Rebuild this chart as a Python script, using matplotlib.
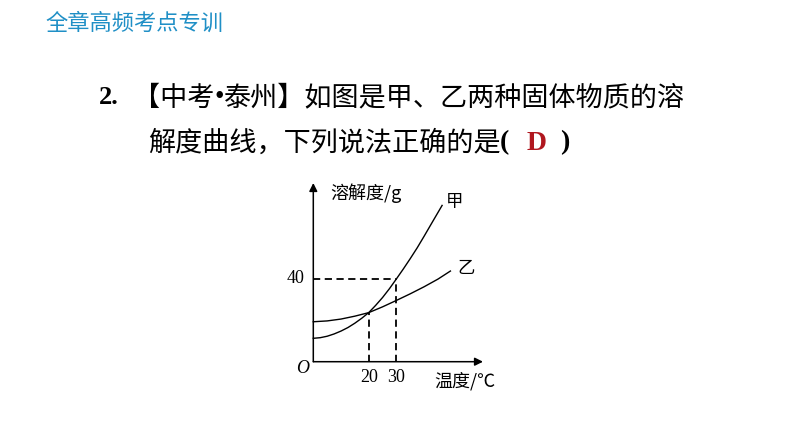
import matplotlib
matplotlib.use("Agg")
import matplotlib.pyplot as plt

plt.rcParams['font.family'] = ['Noto Sans CJK SC', 'DejaVu Sans']

W, H = 794, 447

# curve data (temperature in C, solubility in g)
jia_t = [0, 2.5, 5, 7.5, 10, 12.5, 15, 17.5, 20, 22.5, 25, 27.5, 30,
         32.5, 35, 37.5, 40, 43, 46.5]
jia_s = [11.3, 11.6, 12.3, 13.4, 14.8, 16.5, 18.6, 21.0, 23.7, 27.2, 31.0,
         35.3, 40.0, 44.8, 49.8, 55.0, 60.6, 67.5, 75.5]
yi_t = [0, 5, 10, 15, 20, 25, 30, 35, 40, 45, 49.5]
yi_s = [19.3, 19.7, 20.6, 22.0, 23.7, 26.5, 29.6, 32.8, 36.2, 39.9, 43.8]

x_ticks = [20, 30]
y_ticks = [40]
cross_t, cross_s = 20, 23.7

header = "全章高频考点专训"
line1 = ["【中考", "•", "泰州】如图是甲、乙两种固体物质的溶"]
line2 = "解度曲线，下列说法正确的是"
answer = "D"

fig = plt.figure(figsize=(W / 100, H / 100), dpi=100)
fig.patch.set_facecolor("white")
renderer = fig.canvas.get_renderer()


def fx(x):
    return x / W


def fy(y):
    return 1 - y / H


serif = ["Liberation Serif", "DejaVu Serif"]

fig.text(fx(45), fy(23), header, fontsize=16, color="#1f8fc6",
         ha="left", va="center")

fig.text(fx(99), fy(98), "2.", fontsize=19, family=serif, weight="bold",
         ha="left", va="center")

# first line: the bullet is a narrow serif glyph, the rest CJK
x = 133
for i, part in enumerate(line1):
    if part == "•":
        t = fig.text(fx(x), fy(98), part, fontsize=19.5, family=serif,
                     ha="left", va="center")
    else:
        t = fig.text(fx(x), fy(98), part, fontsize=19.5,
                     ha="left", va="center")
    x = t.get_window_extent(renderer).x1

fig.text(fx(148), fy(143), line2, fontsize=19.5, ha="left", va="center")
fig.text(fx(500), fy(143), "(", fontsize=20, family=serif, weight="bold",
         ha="left", va="center")
fig.text(fx(537), fy(143), answer, fontsize=20, family=serif, weight="bold",
         color="#b0171f", ha="center", va="center")
fig.text(fx(560), fy(143), ")", fontsize=20, family=serif, weight="bold",
         ha="left", va="center")

# chart area: origin at (313, 362), x arrow to 483, y arrow to 183
x0, y0, x1, y1 = 313.3, 361.7, 483, 183
tmax = (x1 - x0) / 2.77
smax = (y0 - y1) / 2.07
ax = fig.add_axes([fx(x0), fy(y0), (x1 - x0) / W, (y0 - y1) / H])
ax.set_xlim(0, tmax)
ax.set_ylim(0, smax)
ax.axis("off")

arrow = dict(arrowstyle="-|>", color="black", lw=1.1,
             mutation_scale=12, shrinkA=0, shrinkB=0)
ax.annotate("", xy=(tmax, 0), xytext=(0, 0), arrowprops=arrow,
            annotation_clip=False)
ax.annotate("", xy=(0, smax), xytext=(0, 0), arrowprops=arrow,
            annotation_clip=False)

ax.plot(jia_t, jia_s, color="black", lw=1.0, clip_on=False)
ax.plot(yi_t, yi_s, color="black", lw=1.0, clip_on=False)

dash = dict(color="black", lw=1.3, dashes=(4, 2.5))
ax.plot([0, x_ticks[1]], [y_ticks[0], y_ticks[0]], **dash)
ax.plot([x_ticks[1], x_ticks[1]], [0, y_ticks[0]], **dash)
ax.plot([cross_t, cross_t], [0, cross_s], **dash)

for t in x_ticks:
    ax.text(t, -7.5, str(t), fontsize=13, family=serif,
            ha="center", va="center")
for s in y_ticks:
    ax.text(-6.5, s, str(s), fontsize=13, family=serif,
            ha="center", va="center")
ax.text(-4, -3.5, "O", fontsize=13, family=serif, style="italic",
        ha="center", va="center")

ax.text(6, smax - 5, "溶解度/g", fontsize=13,
        family=["Noto Sans CJK SC", "Liberation Serif"],
        ha="left", va="center")
ax.text(43.7, -9.5, "温度/℃", fontsize=13,
        family=["Noto Sans CJK SC", "Liberation Serif"],
        ha="left", va="center")
ax.text(50.8, 77, "甲", fontsize=12.5, ha="center", va="center")
ax.text(55, 45.5, "乙", fontsize=12.5, ha="center", va="center")

fig.savefig("out.png", dpi=100, facecolor="white")
